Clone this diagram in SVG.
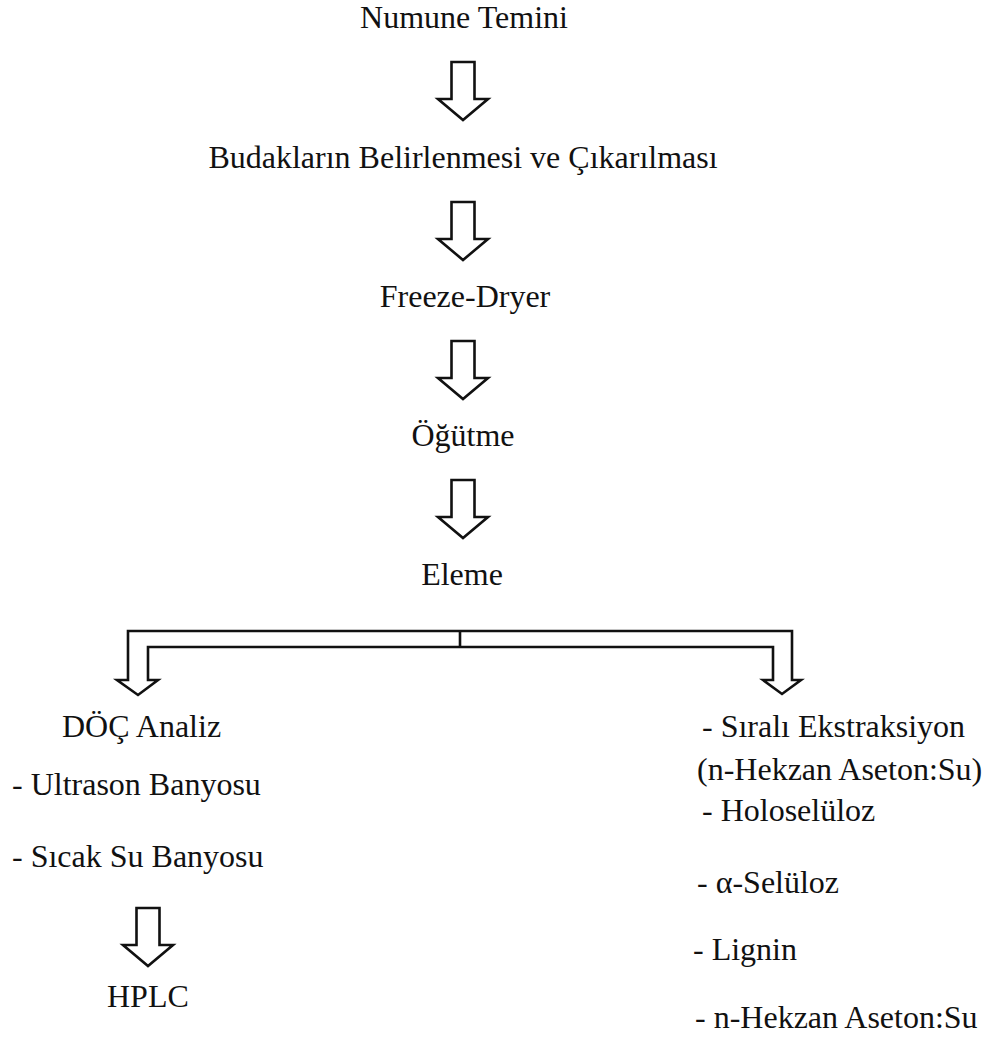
<svg xmlns="http://www.w3.org/2000/svg" width="993" height="1041" viewBox="0 0 993 1041">
<style>
text{font-family:"Liberation Serif","Times New Roman",serif;font-size:32px;fill:#111}
.c{text-anchor:middle}
.ar{fill:#fff;stroke:#111;stroke-width:2.6;stroke-linejoin:miter}
</style>
<defs>
<path id="arrow" d="M-11.5,0 H11.5 V37 H25 L0,58 L-25,37 H-11.5 Z"/>
</defs>
<rect width="993" height="1041" fill="#fff"/>
<g id="n1"><text class="c" x="464" y="28">Numune Temini</text></g>
<g id="n2"><text class="c" x="463" y="168">Budakların Belirlenmesi ve Çıkarılması</text></g>
<g id="n3"><text class="c" x="465" y="307">Freeze-Dryer</text></g>
<g id="n4"><text class="c" x="463" y="446">Öğütme</text></g>
<g id="n5"><text class="c" x="462" y="585">Eleme</text></g>
<g id="n6"><text x="62" y="737">DÖÇ Analiz</text>
<text x="12" y="795">- Ultrason Banyosu</text>
<text x="12" y="867">- Sıcak Su Banyosu</text></g>
<g id="n7"><text x="107" y="1007">HPLC</text></g>
<g id="n8"><text x="702" y="737">- Sıralı Ekstraksiyon</text>
<text x="697" y="780">(n-Hekzan Aseton:Su)</text>
<text x="702" y="821">- Holoselüloz</text>
<text x="697" y="893">- α-Selüloz</text>
<text x="693" y="960">- Lignin</text>
<text x="695" y="1028">- n-Hekzan Aseton:Su</text></g>
<g id="connectors">
<use href="#arrow" class="ar" transform="translate(463,62)"/>
<use href="#arrow" class="ar" transform="translate(463,202)"/>
<use href="#arrow" class="ar" transform="translate(463,341)"/>
<use href="#arrow" class="ar" transform="translate(463,480)"/>
<use href="#arrow" class="ar" transform="translate(148,908)"/>
<path class="ar" d="M128,631 H792 V680 H801 L782,694 L763,680 H773 V647 H148 V680 H158 L138,695 L117,680 H128 Z"/>
<line x1="460" y1="631" x2="460" y2="647" stroke="#111" stroke-width="2.6"/>
</g>
</svg>
